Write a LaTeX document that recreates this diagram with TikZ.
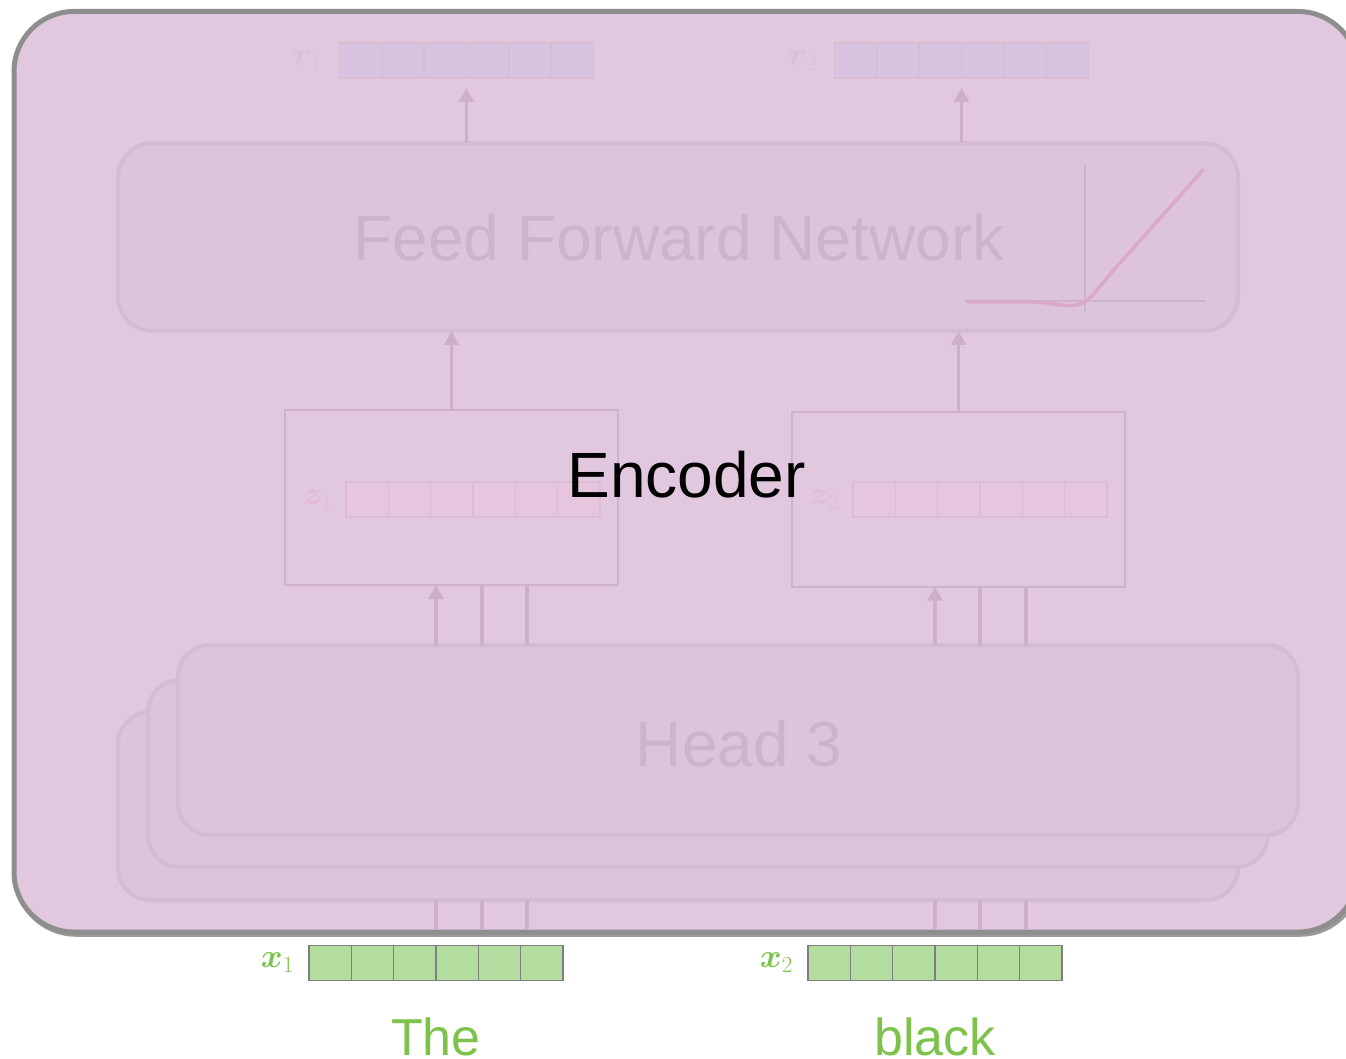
\documentclass[tikz,border=0pt]{standalone}
\usepackage{fontspec}
\setmainfont{Liberation Sans}
\usepackage{bm}
\usetikzlibrary{arrows.meta,calc}
\definecolor{encfill}{HTML}{E2C8DF}
\definecolor{outerline}{HTML}{8E8E8E}
\definecolor{shadowgray}{HTML}{9A9A9A}
\definecolor{panelfill}{HTML}{DDC4DB}
\definecolor{panelline}{HTML}{D6BCD3}
\definecolor{paneltext}{HTML}{CDB3CB}
\definecolor{arrowcol}{HTML}{CCB0CA}
\definecolor{zboxline}{HTML}{CFB2CB}
\definecolor{rfill}{HTML}{D8C4E0}
\definecolor{rline}{HTML}{D7BCD4}
\definecolor{rlabel}{HTML}{D5C3DA}
\definecolor{zfill}{HTML}{E6C5DE}
\definecolor{zline}{HTML}{DCBBD5}
\definecolor{zlabel}{HTML}{E3BAD6}
\definecolor{xfill}{HTML}{B3DEA0}
\definecolor{xline}{HTML}{7F7F7F}
\definecolor{greentext}{HTML}{7DC24B}
\definecolor{relucol}{HTML}{DAAAC4}
\begin{document}
\begin{tikzpicture}[x=0.75pt,y=-0.75pt,
  outerbox/.style={draw=outerline, line width=3.75pt, fill=encfill, rounded corners=45pt,
    inner sep=0pt, outer sep=0pt, minimum width=1008pt, minimum height=690.4pt},
  panel/.style={draw=panelline, line width=3pt, fill=panelfill, rounded corners=#1,
    inner sep=0pt, outer sep=0pt, minimum width=840pt},
  bigtext/.style={font=\fontsize{48}{48}\selectfont, inner sep=0pt},
  zbox/.style={draw=zboxline, line width=1.5pt, fill=encfill, inner sep=0pt, outer sep=0pt,
    minimum width=249.75pt, minimum height=131.25pt},
  vecbox/.style 2 args={fill=#1, draw=#2, line width=1.2pt, inner sep=0pt, outer sep=0pt,
    minimum width=190.5pt, minimum height=26.25pt,
    path picture={\foreach \i in {1,...,5}{\draw[#2, line width=1.2pt]
      ($(path picture bounding box.south west)!\i/6!(path picture bounding box.south east)$) --
      ($(path picture bounding box.north west)!\i/6!(path picture bounding box.north east)$);}}},
  veclabel/.style={text=#1, font=\fontsize{25}{25}\selectfont, inner sep=0pt, anchor=east},
  arr/.style={draw=arrowcol, line width=2.4pt, -{Triangle[width=11pt,length=10.5pt]}},
  ln/.style={draw=arrowcol, line width=2.4pt},
  word/.style={text=greentext, font=\fontsize{39}{39}\selectfont, inner sep=0pt, anchor=base}
]
\useasboundingbox (0,0) rectangle (1346,1059);
\clip (0,0) rectangle (1346,1059);

% outer encoder box with shadow
\node[outerbox, draw=shadowgray, fill=shadowgray] (encshadow) at (688,474) {};
\node[outerbox] (enc) at (686,471.75) {};

% feed forward network
\node[panel=26pt, minimum height=141pt] (ffn) at (678,237) {};
\node[bigtext, text=paneltext, anchor=base] (ffntext) at (679,261) {Feed Forward Network};

% ReLU sketch
\draw[draw=zboxline, line width=0.9pt] (1085,165) -- (1085,313);
\draw[draw=zboxline, line width=0.9pt] (965,301) -- (1206,301);
\draw[draw=relucol, line width=2.6pt, line cap=round]
  (968,302) -- (1035,302) .. controls (1058,303) and (1068,309) .. (1083,303)
  .. controls (1092,298) and (1100,286) .. (1112,272) -- (1203,170);

% head boxes
\node[panel=24pt, minimum height=141pt] (headA) at (678,806) {};
\node[panel=24pt, minimum height=140.25pt] (headB) at (708,773.5) {};
\node[panel=24pt, minimum height=142.5pt] (headC) at (738,740) {};
\node[bigtext, text=paneltext, anchor=base] (headtext) at (739,766) {Head 3};

% z boxes
\node[zbox] (z1box) at (451.5,497.5) {};
\node[zbox] (z2box) at (958.5,499) {};

% vectors
\node[vecbox={rfill}{rline}] (r1) at (466.5,60.5) {};
\node[vecbox={rfill}{rline}] (r2) at (961.5,60.5) {};
\node[vecbox={zfill}{zline}] (z1) at (473,499.5) {};
\node[vecbox={zfill}{zline}] (z2) at (980,499.5) {};
\node[vecbox={xfill}{xline}] (x1) at (436,963) {};
\node[vecbox={xfill}{xline}] (x2) at (935,963) {};

% vector labels
\node[veclabel=rlabel] (r1lab) at ([xshift=-13pt]r1.west) {$\bm{r}_1$};
\node[veclabel=rlabel] (r2lab) at ([xshift=-13pt]r2.west) {$\bm{r}_2$};
\node[veclabel=zlabel] (z1lab) at ([xshift=-10pt]z1.west) {$\bm{z}_1$};
\node[veclabel=zlabel] (z2lab) at ([xshift=-10pt]z2.west) {$\bm{z}_2$};
\node[veclabel=greentext] (x1lab) at ([xshift=-11pt]x1.west) {$\bm{x}_1$};
\node[veclabel=greentext] (x2lab) at ([xshift=-11pt]x2.west) {$\bm{x}_2$};

% FFN -> r
\draw[arr, shorten >=7.5pt] (r1.south |- ffn.north) -- (r1.south);
\draw[arr, shorten >=7.5pt] (r2.south |- ffn.north) -- (r2.south);
% z boxes -> FFN
\draw[arr] (z1box.north) -- (z1box.north |- ffn.south);
\draw[arr] (z2box.north) -- (z2box.north |- ffn.south);

% heads -> z boxes
\coordinate (a1) at (x1.center);
\coordinate (b1) at ([xshift=34.5pt]x1.center);
\coordinate (c1) at ([xshift=68.25pt]x1.center);
\coordinate (a2) at (x2.center);
\coordinate (b2) at ([xshift=33.75pt]x2.center);
\coordinate (c2) at ([xshift=68.25pt]x2.center);
\draw[arr] (a1 |- headC.north) -- (a1 |- z1box.south);
\draw[ln] (b1 |- headC.north) -- (b1 |- z1box.south);
\draw[ln] (c1 |- headC.north) -- (c1 |- z1box.south);
\draw[arr] (a2 |- headC.north) -- (a2 |- z2box.south);
\draw[ln] (b2 |- headC.north) -- (b2 |- z2box.south);
\draw[ln] (c2 |- headC.north) -- (c2 |- z2box.south);

% inputs -> heads (inside encoder)
\coordinate (encbot) at (0,930);
\draw[ln] (a1 |- encbot) -- (a1 |- headA.south);
\draw[ln] (b1 |- encbot) -- (b1 |- headA.south);
\draw[ln] (c1 |- encbot) -- (c1 |- headA.south);
\draw[ln] (a2 |- encbot) -- (a2 |- headA.south);
\draw[ln] (b2 |- encbot) -- (b2 |- headA.south);
\draw[ln] (c2 |- encbot) -- (c2 |- headA.south);

% encoder label
\node[bigtext, text=black, anchor=base] (enctext) at (686.5,497) {Encoder};

% words
\node[word] (w1) at (436,1055) {The};
\node[word] (w2) at (935,1055) {black};
\end{tikzpicture}
\end{document}
